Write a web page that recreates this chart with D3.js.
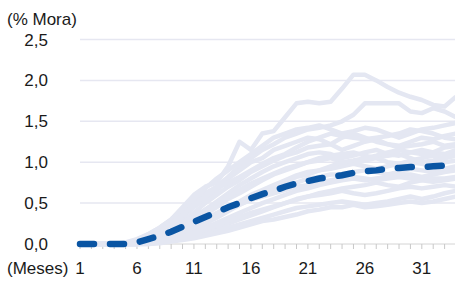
<!DOCTYPE html>
<html>
<head>
<meta charset="utf-8">
<script src="https://cdn.jsdelivr.net/npm/d3@7.9.0/dist/d3.min.js"></script>
<style>
  body { margin: 0; background: #fff; }
  svg { display: block; font-family: "Liberation Sans", Arial, sans-serif; }
</style>
</head>
<body>
<svg id="chart" width="455" height="282"></svg>
<script>
// months on the x axis
const months = d3.range(1, 35);
const xTickLabels = [1, 6, 11, 16, 21, 26, 31];
const yTickLabels = [0, 0.5, 1, 1.5, 2, 2.5];

// individual vintages (light lines), % mora by month
const vintages = [
  [0,0,0,0,0,0.05,0.12,0.2,0.3,0.45,0.6,0.7,0.75,0.95,1.25,1.15,1.35,1.38,1.55,1.72,1.74,1.72,1.74,1.9,2.07,2.07,2.0,1.92,1.85,1.8,1.76,1.7,1.68,1.8],
  [0,0,0,0,0,0.03,0.1,0.18,0.28,0.38,0.5,0.62,0.7,0.82,0.95,1.05,1.15,1.22,1.3,1.35,1.4,1.42,1.45,1.5,1.58,1.72,1.72,1.72,1.72,1.62,1.6,1.66,1.62,1.55],
  [0,0,0,0,0.02,0.06,0.12,0.2,0.3,0.42,0.55,0.68,0.8,0.9,1.0,1.1,1.2,1.3,1.35,1.4,1.42,1.45,1.4,1.35,1.38,1.42,1.4,1.35,1.3,1.35,1.4,1.42,1.45,1.48],
  [0,0,0,0,0,0.04,0.1,0.16,0.24,0.33,0.45,0.55,0.65,0.8,0.9,1.0,1.05,1.15,1.2,1.25,1.3,1.28,1.22,1.3,1.35,1.3,1.25,1.22,1.2,1.25,1.3,1.28,1.32,1.35],
  [0,0,0,0,0,0.02,0.06,0.12,0.2,0.28,0.38,0.5,0.6,0.7,0.78,0.88,0.95,1.02,1.08,1.12,1.18,1.2,1.22,1.15,1.2,1.25,1.28,1.22,1.18,1.2,1.22,1.25,1.2,1.22],
  [0,0,0,0,0,0.02,0.05,0.1,0.16,0.24,0.32,0.42,0.52,0.62,0.72,0.8,0.88,0.95,1.0,1.05,1.1,1.12,1.1,1.05,1.08,1.12,1.15,1.1,1.08,1.12,1.15,1.12,1.1,1.15],
  [0,0,0,0,0,0.01,0.04,0.08,0.14,0.2,0.28,0.36,0.45,0.55,0.62,0.7,0.78,0.85,0.9,0.95,1.0,1.02,1.05,1.0,0.98,1.02,1.05,1.0,0.98,1.02,1.05,1.08,1.05,1.08],
  [0,0,0,0,0,0,0.03,0.06,0.1,0.16,0.22,0.3,0.38,0.45,0.52,0.6,0.66,0.72,0.78,0.84,0.88,0.9,0.92,0.95,0.98,0.95,0.92,0.95,0.98,1.0,0.98,0.95,1.0,1.02],
  [0,0,0,0,0,0,0.02,0.05,0.08,0.12,0.18,0.25,0.32,0.4,0.48,0.55,0.6,0.66,0.7,0.75,0.8,0.82,0.85,0.85,0.88,0.9,0.88,0.85,0.88,0.92,0.9,0.88,0.92,0.95],
  [0,0,0,0,0,0,0.02,0.04,0.07,0.1,0.15,0.2,0.26,0.32,0.38,0.44,0.5,0.55,0.6,0.65,0.68,0.72,0.75,0.78,0.8,0.78,0.8,0.82,0.85,0.85,0.82,0.85,0.88,0.9],
  [0,0,0,0,0,0,0.01,0.03,0.05,0.08,0.12,0.16,0.2,0.25,0.3,0.35,0.4,0.45,0.5,0.55,0.58,0.62,0.65,0.68,0.7,0.72,0.75,0.72,0.7,0.75,0.78,0.8,0.8,0.82],
  [0,0,0,0,0,0,0,0.02,0.04,0.06,0.09,0.12,0.16,0.2,0.24,0.28,0.32,0.36,0.4,0.44,0.46,0.48,0.5,0.52,0.5,0.48,0.5,0.52,0.55,0.58,0.55,0.58,0.62,0.65],
  [0,0,0,0,0,0,0,0.01,0.03,0.05,0.07,0.1,0.13,0.16,0.2,0.24,0.28,0.3,0.33,0.36,0.4,0.42,0.45,0.45,0.48,0.45,0.46,0.48,0.5,0.52,0.5,0.52,0.55,0.58],
  [0,0,0,0,0,0.03,0.08,0.15,0.25,0.35,0.48,0.58,0.68,0.75,0.82,0.9,0.98,1.05,1.1,1.18,1.25,1.3,1.35,1.32,1.3,1.28,1.3,1.32,1.35,1.4,1.38,1.35,1.3,1.28],
  [0,0,0,0,0,0.02,0.05,0.1,0.18,0.26,0.34,0.42,0.5,0.58,0.66,0.74,0.8,0.86,0.92,0.96,1.0,1.05,1.08,1.1,1.12,1.08,1.05,1.08,1.1,1.05,1.0,1.02,1.05,1.1],
  [0,0,0,0,0,0.01,0.03,0.07,0.12,0.18,0.24,0.3,0.36,0.42,0.48,0.54,0.58,0.62,0.66,0.7,0.72,0.75,0.78,0.8,0.82,0.8,0.78,0.8,0.82,0.8,0.78,0.76,0.78,0.8],
  [0,0,0,0,0,0,0.02,0.05,0.09,0.14,0.2,0.27,0.34,0.42,0.5,0.58,0.64,0.7,0.76,0.82,0.85,0.9,0.95,1.0,1.02,1.05,1.08,1.12,1.15,1.12,1.1,1.12,1.18,1.2],
  [0,0,0,0,0,0,0.01,0.03,0.06,0.09,0.13,0.18,0.23,0.28,0.33,0.38,0.42,0.46,0.5,0.54,0.58,0.6,0.62,0.65,0.62,0.6,0.62,0.65,0.68,0.7,0.68,0.7,0.72,0.7]
];

// average (dashed line)
const average = [0,0,0,0,0,0.02,0.06,0.1,0.15,0.21,0.27,0.33,0.39,0.45,0.5,0.56,0.61,0.65,0.7,0.74,0.77,0.8,0.82,0.84,0.87,0.89,0.9,0.92,0.93,0.94,0.94,0.95,0.96,0.98];

const svg = d3.select('#chart');
const fmt = d3.format('.1f');

// scales
const x = d3.scaleLinear().domain([1, 34]).range([80, 456]);
const y = d3.scaleLinear().domain([0, 2.5]).range([244, 39.5]);

// gridlines
svg.append('g')
  .selectAll('line')
  .data(yTickLabels.filter(d => d > 0))
  .join('line')
  .attr('x1', 80).attr('x2', 455)
  .attr('y1', d => y(d)).attr('y2', d => y(d))
  .attr('stroke', '#e6e7f1')
  .attr('stroke-width', 1.5);

// y labels
svg.append('g')
  .selectAll('text')
  .data(yTickLabels)
  .join('text')
  .attr('x', 48)
  .attr('y', d => y(d) + 6)
  .attr('text-anchor', 'end')
  .attr('font-size', 17)
  .attr('fill', '#1a1a1a')
  .text(d => fmt(d).replace('.', ','));

// x axis line and ticks
svg.append('line')
  .attr('x1', 80).attr('x2', 455)
  .attr('y1', y(0)).attr('y2', y(0))
  .attr('stroke', '#d4d4d4').attr('stroke-width', 1);

svg.append('g')
  .selectAll('line')
  .data(months)
  .join('line')
  .attr('x1', d => x(d)).attr('x2', d => x(d))
  .attr('y1', y(0)).attr('y2', y(0) + 5)
  .attr('stroke', '#c8c8c8');

svg.append('g')
  .selectAll('text')
  .data(xTickLabels)
  .join('text')
  .attr('x', d => x(d))
  .attr('y', 274)
  .attr('text-anchor', 'middle')
  .attr('font-size', 17)
  .attr('fill', '#1a1a1a')
  .text(d => d);

// axis titles
svg.append('text')
  .attr('x', 7).attr('y', 25)
  .attr('font-size', 17).attr('fill', '#1a1a1a')
  .text('(% Mora)');

svg.append('text')
  .attr('x', 7).attr('y', 274)
  .attr('font-size', 17).attr('fill', '#1a1a1a')
  .text('(Meses)');

// lines
const line = d3.line()
  .x((d, i) => x(months[i]))
  .y(d => y(d));

svg.append('g')
  .selectAll('path')
  .data(vintages)
  .join('path')
  .attr('d', line)
  .attr('fill', 'none')
  .attr('stroke', '#e4e7f2')
  .attr('stroke-width', 4.5)
  .attr('stroke-linejoin', 'round');

svg.append('path')
  .attr('d', line(average))
  .attr('fill', 'none')
  .attr('stroke', '#0a55a3')
  .attr('stroke-width', 6.5)
  .attr('stroke-linecap', 'round')
  .attr('stroke-dasharray', '14,16');
</script>
</body>
</html>
